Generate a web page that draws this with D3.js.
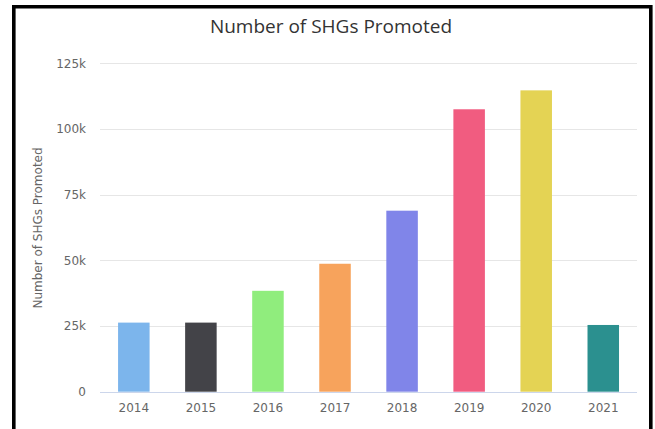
<!DOCTYPE html>
<html><head><meta charset="utf-8">
<script src="https://cdn.jsdelivr.net/npm/d3@7"></script>
<style>html,body{margin:0;padding:0;background:#fff;}svg{display:block;}</style>
</head><body>
<script>
const categories = ["2014","2015","2016","2017","2018","2019","2020","2021"];
const values = [26300, 26300, 38400, 48700, 68900, 107500, 114700, 25400];
const colors = ["#7cb5ec","#434348","#90ed7d","#f7a35c","#8085e9","#f15c80","#e4d354","#2b908f"];
const yTicks = [0, 25000, 50000, 75000, 100000, 125000];
const yTickLabels = ["0","25k","50k","75k","100k","125k"];

const W = 655, H = 429;
const FONT = "DejaVu Sans, Verdana, sans-serif";
const svg = d3.select("body").append("svg").attr("width", W).attr("height", H);
svg.append("rect").attr("width", W).attr("height", H).attr("fill", "#fff");

const x = d3.scaleBand().domain(categories).range([100.3, 636.8]).paddingInner(0.53).paddingOuter(0.265);
const y = d3.scaleLinear().domain([0, 125000]).range([391.7, 63.3]);

// gridlines
svg.append("g").selectAll("line").data(yTicks.slice(1)).join("line")
  .attr("x1", 100).attr("x2", 637)
  .attr("y1", d => Math.round(y(d)) + 0.5).attr("y2", d => Math.round(y(d)) + 0.5)
  .attr("stroke", "#e6e6e6").attr("stroke-width", 1);

// y axis labels
const yAxis = d3.axisLeft(y).tickValues(yTicks).tickSize(0).tickPadding(0)
  .tickFormat((d, i) => yTickLabels[i]);
const gy = svg.append("g").attr("transform", "translate(86,0)").call(yAxis);
gy.select(".domain").remove();
gy.selectAll("text").attr("font-family", FONT).attr("font-size", 12).attr("fill", "#666");

// bars
svg.append("g").selectAll("rect").data(values).join("rect")
  .attr("x", (d, i) => x(categories[i]))
  .attr("width", x.bandwidth())
  .attr("y", d => y(d))
  .attr("height", d => y(0) - y(d))
  .attr("fill", (d, i) => colors[i]);

// x axis
const xAxis = d3.axisBottom(x).tickSize(0).tickPadding(11);
const gx = svg.append("g").attr("transform", `translate(0,${Math.round(y(0)) + 0.5})`).call(xAxis);
gx.select(".domain").attr("stroke", "#ccd6eb").attr("d", "M100,0H637");
gx.selectAll("text").attr("font-family", FONT).attr("font-size", 12).attr("fill", "#666");

// title
svg.append("text").attr("x", 331).attr("y", 33).attr("text-anchor", "middle")
  .attr("font-family", "Open Sans, sans-serif").attr("font-size", 19).attr("fill", "#333")
  .text("Number of SHGs Promoted");

// y axis title
svg.append("text").attr("transform", "translate(42,228) rotate(-90)").attr("text-anchor", "middle")
  .attr("font-family", FONT).attr("font-size", 12).attr("fill", "#666")
  .text("Number of SHGs Promoted");

// frame
svg.append("path").attr("d", "M13.8,440V6.8H650.8V440").attr("fill", "none")
  .attr("stroke", "#000").attr("stroke-width", 3.6);
</script>
</body></html>
